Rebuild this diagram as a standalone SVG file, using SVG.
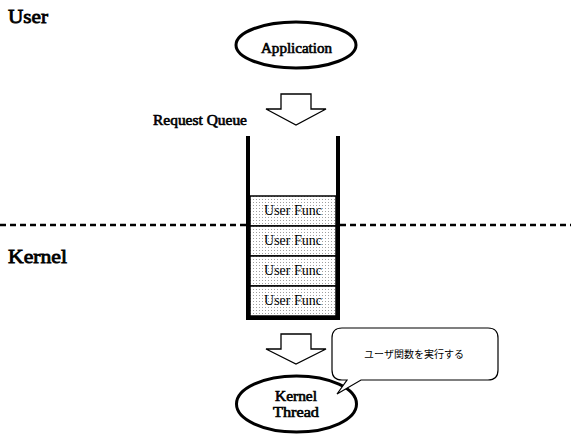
<svg xmlns="http://www.w3.org/2000/svg" width="571" height="436" viewBox="0 0 571 436">
<defs>
<pattern id="dots" width="3" height="3" patternUnits="userSpaceOnUse">
<rect width="3" height="3" fill="#ffffff"/>
<rect x="1" y="1" width="1" height="1" fill="#a0a0a0"/>
</pattern>
<style>
.lbl{font-family:"Liberation Serif","Times New Roman",serif;font-weight:normal;fill:#000;stroke:#000;stroke-width:0.6}
.big{font-size:19px;stroke-width:0.8}
.mid{font-size:14px}
.func{font-family:"Liberation Serif","Times New Roman",serif;font-size:14px;fill:#000;text-anchor:middle}
.ell{fill:#fff;stroke:#000;stroke-width:3}
.arrow{fill:#fff;stroke:#000;stroke-width:1.3;stroke-linejoin:miter}
.box{fill:url(#dots);stroke:#000;stroke-width:1.5}
.wall{stroke:#000;stroke-width:4;fill:none}
.dash{stroke:#000;stroke-width:2.5;stroke-dasharray:6 4;fill:none}
.ja{font-family:"Noto Sans CJK JP","Noto Sans",sans-serif;font-size:10px;fill:#000;text-anchor:middle}
</style>
</defs>
<rect width="571" height="436" fill="#fff"/>
<text class="lbl big" x="8" y="23" textLength="40" lengthAdjust="spacingAndGlyphs">User</text>
<text class="lbl big" x="8" y="263" textLength="59" lengthAdjust="spacingAndGlyphs">Kernel</text>
<g id="connectors">
<polygon class="arrow" points="281,94 311,94 311,109 326,109 296,125 266,109 281,109"/>
<polygon class="arrow" points="281,334 311,334 311,349 326,349 296,364 266,349 281,349"/>
<line class="dash" x1="0" y1="225" x2="246" y2="225"/>
<line class="dash" x1="340" y1="225" x2="571" y2="225"/>
</g>
<g id="application">
<ellipse class="ell" cx="296" cy="45" rx="60" ry="23"/>
<text class="lbl mid" x="261" y="53" textLength="71" lengthAdjust="spacingAndGlyphs">Application</text>
</g>
<g id="request-queue">
<text class="lbl mid" x="153" y="125" textLength="94" lengthAdjust="spacingAndGlyphs">Request Queue</text>
<rect class="box" x="250" y="196" width="86" height="30"/>
<rect class="box" x="250" y="226" width="86" height="30"/>
<rect class="box" x="250" y="256" width="86" height="30"/>
<rect class="box" x="250" y="286" width="86" height="30"/>
<text class="func" x="293" y="215">User Func</text>
<text class="func" x="293" y="245">User Func</text>
<text class="func" x="293" y="275">User Func</text>
<text class="func" x="293" y="305">User Func</text>
<path class="wall" d="M248,136 V318 H338 V136"/>
</g>
<g id="kernel-thread">
<ellipse class="ell" cx="296.5" cy="404" rx="60" ry="28"/>
<text class="lbl mid" x="275" y="401" textLength="42" lengthAdjust="spacingAndGlyphs">Kernel</text>
<text class="lbl mid" x="273" y="417" textLength="46" lengthAdjust="spacingAndGlyphs">Thread</text>
</g>
<g id="callout">
<path d="M342,328 H488 Q498,328 498,338 V370 Q498,380 488,380 H361 L337,394 L347,380 H342 Q332,380 332,370 V338 Q332,328 342,328 Z" fill="#fff" stroke="#000" stroke-width="1.2"/>
<text class="ja" x="414" y="358">ユーザ関数を実行する</text>
</g>
</svg>
